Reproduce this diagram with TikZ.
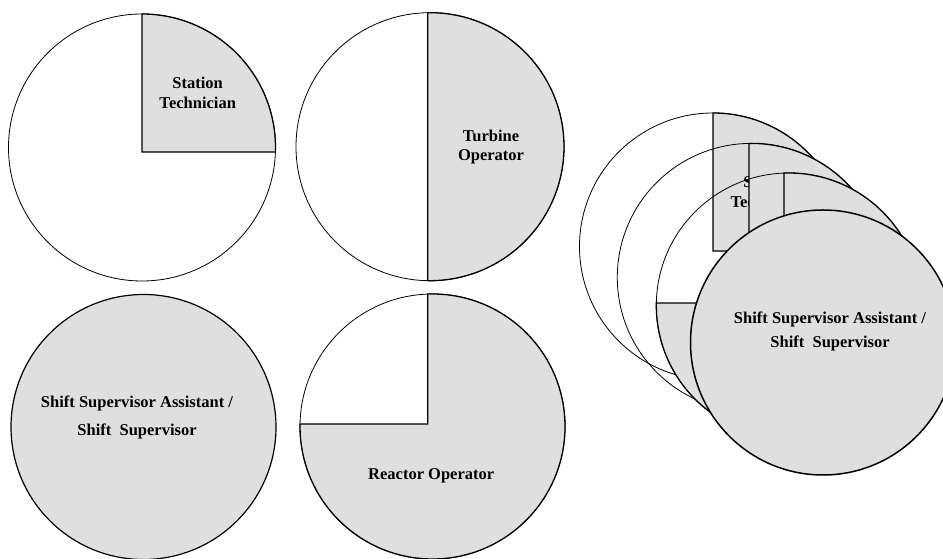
\documentclass[tikz,border=0pt]{standalone}
\usepackage{fontspec}
\setmainfont{Liberation Serif}
\definecolor{slicegray}{HTML}{DFDFDF}
\tikzset{
  ring/.style={draw=black, line width=0.8pt},
  slice/.style={fill=slicegray, draw=black, line width=1.3pt, line join=miter},
  lbl/.style={font=\bfseries\fontsize{16.5}{#1}\selectfont, align=center, inner sep=0pt},
  lbl/.default=20
}
% Quarter share (Station Technician)
\newcommand\pieStation{%
  \draw[ring] (142,411.5) circle[radius=133.5];
  \draw[slice] (142,407) -- (142,545) arc[start angle=90, end angle=-1.93, radius=133.5] -- cycle;
}
% Half share (Turbine Operator)
\newcommand\pieTurbine{%
  \draw[ring] (430,412.3) circle[radius=134];
  \draw[slice] (427.7,278.32) -- (427.7,546.28) arc[start angle=90.98, end angle=-90.98, radius=134] -- cycle;
}
% Full share (Shift Supervisor)
\newcommand\pieShift{%
  \draw[slice, line width=1.2pt] (143.5,132) circle[radius=132.5];
}
% Three-quarter share (Reactor Operator)
\newcommand\pieReactor{%
  \draw[ring] (432.5,132.5) circle[radius=132.5];
  \draw[slice] (427.7,135) -- (427.7,264.9) arc[start angle=92.08, end angle=-181.08, radius=132.5] -- cycle;
}
\begin{document}
\begin{tikzpicture}[x=1pt, y=1pt]
  \useasboundingbox (0,0) rectangle (943,559);
  \clip (0,0) rectangle (943,559);

  % the four single charts
  \pieStation
  \node[lbl=20] (stTxt) at (197.7,466.3) {Station\\Technician};
  \pieTurbine
  \node[lbl=19.4] (toTxt) at (491,412) {Turbine\\Operator};
  \pieShift
  \node[lbl=28] (ssTxt) at (137,142) {Shift Supervisor Assistant /\\Shift\ \ Supervisor};
  \pieReactor
  \node[lbl] (roTxt) at (431.2,83) {Reactor Operator};

  % the overlapping stack, back to front
  \begin{scope}[shift={(571,-99)}]
    \pieStation
    \node[lbl=20] (stackSt) at (197.7,466.3) {Station\\Technician};
  \end{scope}
  \begin{scope}[shift={(321.3,-130.7)}]
    \pieTurbine
  \end{scope}
  \begin{scope}[shift={(356.3,121)}]
    \pieReactor
  \end{scope}
  \begin{scope}[shift={(679.5,84.5)}]
    \draw[slice, line width=1.5pt] (143.5,132) circle[radius=132.5];
  \end{scope}
  \node[lbl=24] (stackSs) at (830,228) {Shift Supervisor Assistant /\\Shift\ \ Supervisor};
\end{tikzpicture}
\end{document}
